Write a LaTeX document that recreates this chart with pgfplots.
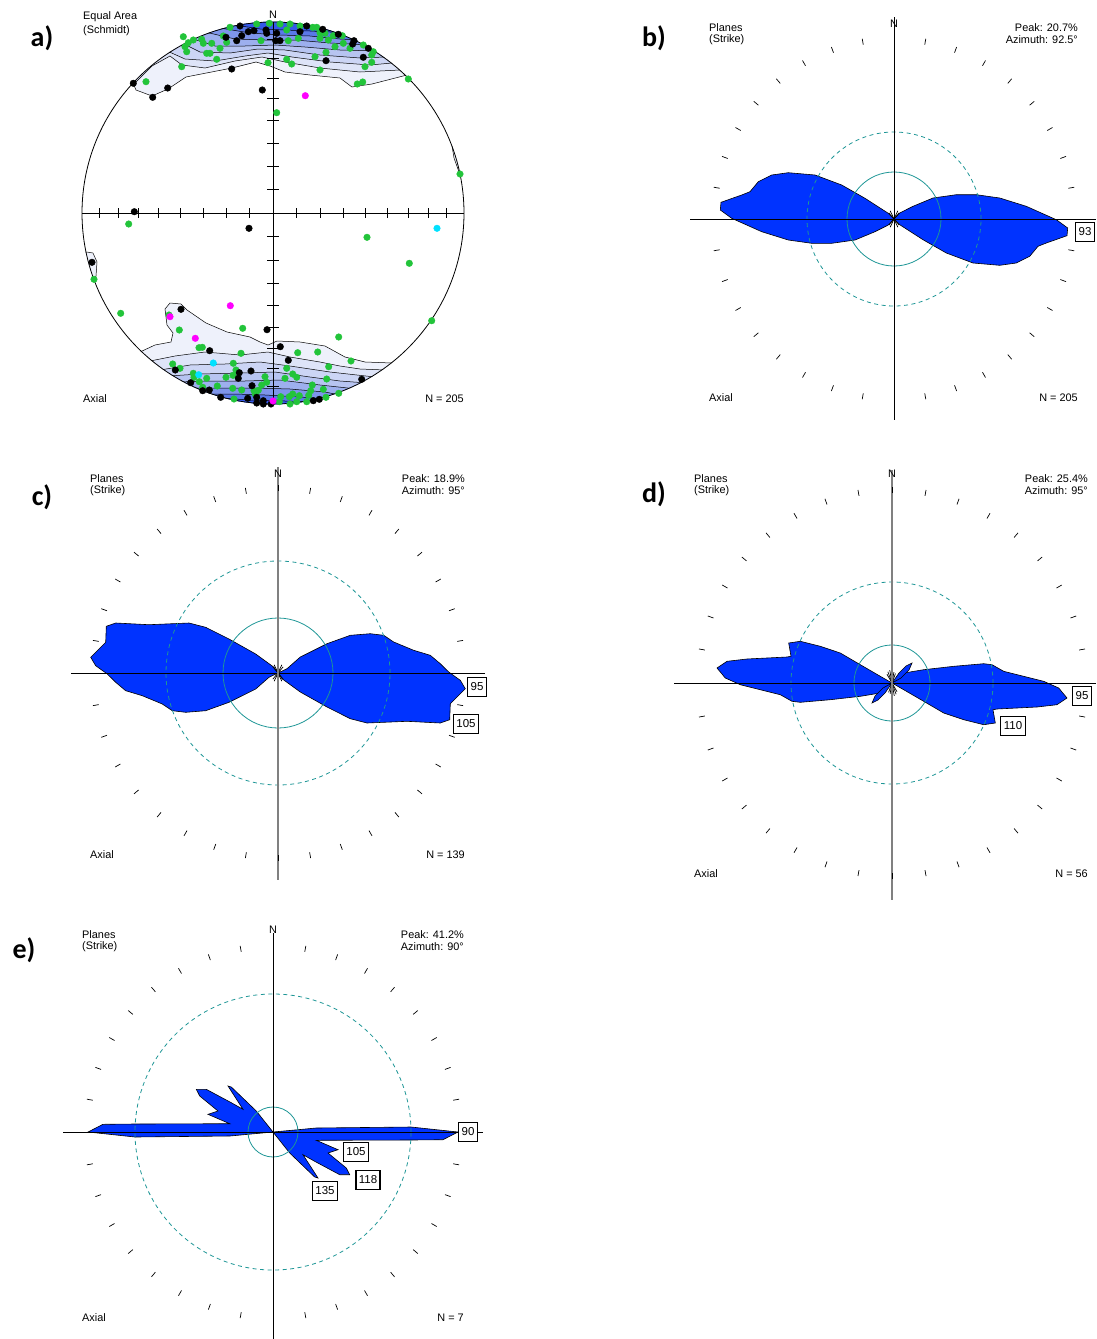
\documentclass[border=0pt]{standalone}
\usepackage{pgfplots}
\pgfplotsset{compat=1.18}
\usepackage{pgfplotstable}
\usepackage{fontspec}
\setmainfont{Liberation Sans}
\newfontfamily\carlito{Carlito}
\definecolor{roseblue}{RGB}{0,51,255}
\definecolor{rteal}{RGB}{30,150,150}
\definecolor{dgreen}{RGB}{34,196,58}
\definecolor{dcyan}{RGB}{0,225,255}
\definecolor{dmag}{RGB}{255,0,255}
\definecolor{cA}{RGB}{238,241,251}
\definecolor{cB}{RGB}{222,228,248}
\definecolor{cC}{RGB}{204,213,245}
\definecolor{cD}{RGB}{183,196,241}
\definecolor{cE}{RGB}{157,175,238}
\definecolor{cF}{RGB}{126,149,234}
\definecolor{cG}{RGB}{90,120,232}
\definecolor{cH}{RGB}{53,89,234}
\definecolor{axgray}{RGB}{128,128,128}
\newcommand{\sm}{\fontsize{10.9}{12}\selectfont}
\newcommand{\pl}{\carlito\bfseries\fontsize{28}{30}\selectfont}
\tikzset{lbl/.style={draw=black, line width=1.2pt, fill=white, font=\fontsize{11.5}{12}\selectfont, inner xsep=3pt, inner ysep=0pt, minimum height=19pt},
 tl/.style={anchor=west, font=\sm, inner sep=0pt},
 tr/.style={anchor=east, font=\sm, inner sep=0pt}}
\pgfplotstableread{
a s
0 1
10 1
20 1
30 1
40 1
50 1
60 1
70 1
80 1
90 1
100 1
110 1
120 1
130 1
140 1
150 1
160 1
170 1
180 1
190 1
200 1
210 1
220 1
230 1
240 1
250 1
260 1
270 1
280 1
290 1
300 1
310 1
320 1
330 1
340 1
350 1
}\angtab
\pgfplotstableread{
x y u v
99.4 208 0 10
118 208 0 10
138 208 0 10
158.8 208 0 10
180.6 208 0 10
203.1 208 0 10
226.1 208 0 10
249.5 208 0 10
296.5 208 0 10
319.9 208 0 10
342.9 208 0 10
365.4 208 0 10
387.2 208 0 10
408 208 0 10
428 208 0 10
446.6 208 0 10
267 39.4 12 0
267 58 12 0
267 78 12 0
267 98.8 12 0
267 120.6 12 0
267 143.1 12 0
267 166.1 12 0
267 189.5 12 0
267 236.5 12 0
267 259.9 12 0
267 282.9 12 0
267 305.4 12 0
267 327.2 12 0
267 348 12 0
267 368 12 0
267 386.6 12 0
}\stticks
\pgfplotstableread{
dx dy
0 0
5.7 -6
19 -12.7
39 -21
62.3 -24.3
82.3 -24.3
105.7 -21
132.3 -12.7
162.3 0.7
173.7 9
173 16.7
152.3 24
144 27.3
135.7 37.3
122.3 44
105.7 46.3
79 44
52.3 34
29 20.7
5.7 5.7
0 0
}\petalb
\pgfplotstableread{
dx dy
0 0
9 -4.3
22.3 -16
49 -29.3
72.3 -37.7
92.3 -39.3
105.7 -37.7
115.7 -31
135.7 -22.7
152.3 -17.7
162.3 -9.3
170.7 -1
182.3 7.3
187.3 15.7
172.3 30.7
171.7 46.7
162.3 50
129 48.3
89 50
72.3 45.7
49 34
22.3 19
4 5.7
0 0
}\petalc
\pgfplotstableread{
dx dy
0 0
5 -5
11.7 -10
31.7 -13.3
61.7 -16.7
91.7 -19.3
100 -18.3
111.7 -11.7
131.7 -6.7
151.7 -1.7
166.7 5
175 15
165 21.7
145 24
105 26
101 26.7
103.3 40
91.7 41.7
71.7 36.7
51.7 30
31.7 18.3
11.7 6.7
0 0
}\petald
\pgfplotstableread{
dx dy
0 0
7 -10
14 -17
20 -20
17 -13
9 -5
0 0
}\petaldthin
\pgfplotstableread{
dx dy
0 0
25 -2.3
43 -4
138 -5
185 0
170 7.7
138 8
43.3 8.3
65 17.7
55 21
73.3 36
76.7 42.7
66.7 42.7
41.7 29.3
30 22.7
45 46
41.7 45
16.7 21
0 0
}\petale
\pgfplotstableread{
a l
25 9
40 8
140 8
155 9
205 9
220 8
320 8
335 9
}\flecks
\pgfplotstableread{
a l
-30 10
-20 12
-10 13
0 12
10 11
20 10
150 10
160 12
170 13
180 12
190 11
200 10
}\flecksd
\begin{document}%
\begin{tikzpicture}
\begin{axis}[x=1pt,y=1pt,xmin=0,xmax=1096,ymin=0,ymax=1339,y dir=reverse,hide axis]
% ===== panel a: contours (top)
\addplot[fill=cA,draw=black,line width=0.5pt] coordinates {(133,83) (136,90) (152,96) (168,89) (186,77) (232,68) (256,62) (270,66) (285,72) (310,75) (340,78) (352,87) (372,84) (407,75) (425,61) (346.5,11) (273,-2) (199.5,11) (121,61) (133,83)};
\addplot[fill=cB,draw=black,line width=0.5pt] coordinates {(136,82) (152,66) (170,56) (182,65) (205,68) (235,61) (262,57) (285,62) (320,68) (360,72) (400,70) (413.5,57) (346.5,11) (273,-2) (199.5,11) (121,61) (136,82)};
\addplot[fill=cC,draw=black,line width=0.5pt] coordinates {(165,50) (185,59) (215,61) (245,56) (268,53) (292,57) (330,62) (370,65) (392,63) (406.4,48.2) (346.5,11) (273,-2) (199.5,11) (154.5,37.2) (165,50)};
\addplot[fill=cD,draw=black,line width=0.5pt] coordinates {(180,42) (200,52) (230,53) (258,49) (285,50) (320,55) (360,58) (385,57) (397.6,41.5) (346.5,11) (273,-2) (199.5,11) (170.2,27.6) (180,42)};
\addplot[fill=cE,draw=black,line width=0.5pt] coordinates {(190,38) (215,46) (245,46) (275,45) (305,47) (340,50) (378,51) (390,36.2) (346.5,11) (273,-2) (199.5,11) (180,22.5) (190,38)};
\addplot[fill=cF,draw=black,line width=0.5pt] coordinates {(205,32) (235,39) (265,40) (295,40) (330,43) (368,45) (379,29.4) (346.5,11) (273,-2) (197,15) (205,32)};
\addplot[fill=cG,draw=black,line width=0.5pt] coordinates {(220,28) (250,33) (280,35) (310,36) (340,39) (360,40) (369.2,24.1) (346.5,11) (273,-2) (214.6,9.2) (220,28)};
\addplot[fill=cH,draw=black,line width=0.5pt] coordinates {(235,25) (260,29) (285,30) (310,31) (330,32) (345,33) (352.4,16.4) (273,-2) (228.9,5.6) (235,25)};
% bottom contours
\addplot[fill=cA,draw=black,line width=0.5pt] coordinates {(140,352) (155,345) (171,342) (173,333) (167,325) (165,309) (170,303) (181,304) (187,310) (206,323) (227,332) (250,337) (260,342) (268,345) (277,341) (300,342) (325,346) (345,357) (365,362) (392,363) (407.8,376.6) (345.5,412.2) (273,425) (200.5,412.2) (124.4,364.2) (140,352)};
\addplot[fill=cB,draw=black,line width=0.5pt] coordinates {(150,361) (175,356) (205,352) (240,355) (268,352) (290,357) (320,362) (340,366) (360,369) (385,370) (397.6,384.5) (345.5,412.2) (273,425) (200.5,412.2) (136.7,375.4) (150,361)};
\addplot[fill=cC,draw=black,line width=0.5pt] coordinates {(160,370) (190,365) (225,364) (260,362) (290,366) (330,372) (375,377) (385.3,392.8) (345.5,412.2) (273,425) (200.5,412.2) (148.4,384.5) (160,370)};
\addplot[fill=cD,draw=black,line width=0.5pt] coordinates {(168,376) (200,374) (240,373) (275,372) (310,377) (340,381) (367,383) (375.8,398.5) (345.5,412.2) (273,425) (200.5,412.2) (157.5,390.9) (168,376)};
\addplot[fill=cE,draw=black,line width=0.5pt] coordinates {(178,382) (210,381) (245,381) (280,380) (320,385) (357,389) (365.9,403.6) (345.5,412.2) (273,425) (200.5,412.2) (167,396.6) (178,382)};
\addplot[fill=cF,draw=black,line width=0.5pt] coordinates {(190,388) (220,388) (255,388) (290,389) (325,392) (345,396) (352.4,409.5) (273,425) (180.1,403.6) (190,388)};
\addplot[fill=cG,draw=black,line width=0.5pt] coordinates {(205,394) (235,394) (265,395) (300,397) (330,399) (338.5,414.6) (273,425) (197.1,411) (205,394)};
\addplot[fill=cH,draw=black,line width=0.5pt] coordinates {(220,398) (250,400) (285,401) (315,402) (320.7,419.5) (273,425) (211,415.7) (220,398)};
% slivers
\addplot[fill=cA,draw=black,line width=0.5pt] coordinates {(452,146) (454,158) (459,172) (470,172) (465,146) (452,146)};
\addplot[fill=cA,draw=black,line width=0.5pt] coordinates {(87,252) (93,253) (97,262) (96,276) (94,280) (80,280) (78,252) (87,252)};
% mask outside the net
\fill[white, even odd rule] (axis cs:273,213) circle[radius=191.5pt] circle[radius=235pt];
\draw[black, line width=0.8pt] (axis cs:273,213) circle[radius=191pt];
\addplot[black, line width=0.7pt] coordinates {(82,213) (464,213)};
\addplot[black, line width=0.7pt] coordinates {(273,22) (273,404)};
\addplot[black, line width=0.7pt, quiver={u=\thisrow{u}, v=\thisrow{v}}] table[x=x,y=y] {\stticks};
% dots
\addplot[only marks, mark=*, mark size=3.3pt, color=dgreen] coordinates {(230,27.3) (256.7,24) (269.3,23.3) (280,24) (290,24) (300,26) (312.7,27.3) (316.7,27.3) (320,32.7) (325,33.3) (333.3,35.7) (342.3,35.7) (223.3,36) (201.7,39.3) (193.3,40) (188.3,42.7) (185,46.7) (186.7,51.7) (203.3,43.3) (211.7,43.3) (206.7,53.3) (210,53.3) (220,48.3) (226.7,42.3) (216.7,59.3) (181.7,66.7) (146,81.7) (261,40.7) (286.7,30) (288.3,40.7) (298.3,38.3) (320,38.3) (328.3,40) (335,46.7) (343.3,43.3) (350,48.3) (363.3,45) (373.3,51.7) (371.7,55) (326,52.3) (315,56.7) (371.7,62.3) (365,66.7) (286.7,59.3) (291.7,64) (268,62.7) (320,70) (357.3,84) (362.7,82) (408.3,79) (276.7,112.7) (460,174) (183.3,36.7)
(128.7,224) (94,279.3) (120.7,313.3) (169,315) (179.3,330) (242.7,328.3) (199,347.7) (202.3,347.3) (241,353.3) (297.7,352.7) (317.7,352) (338.7,337) (351,361) (328.7,366.7) (431.7,320.7) (409.3,263.3) (367,237.3) (172.7,364) (180,368.3) (233.3,363.3) (236,370) (233,375.3) (226,377.3) (206.7,378.3) (193.3,373.3) (199.3,381.7) (217.3,386) (232.7,388.3) (241.7,390) (254,390.7) (258.3,390.3) (265,376.7) (266.7,382.3) (261.7,385) (286.7,368.3) (292.7,374) (296.7,377.3) (285,378.3) (326.7,379) (312.3,385) (310.7,390.7) (323.3,389.3) (338.7,393.3) (326,397.3) (308.7,395.3) (299.3,395.7) (292.7,394) (289.3,396.7) (280.7,396.7) (279.3,401.7) (296.7,401.7) (306.7,401.7) (290,404) (234,399) (255.3,394.3) (202.7,387.3) (194,377.3)};
\addplot[only marks, mark=*, mark size=3.3pt, color=black] coordinates {(240,26) (248.3,31.7) (254,30.7) (266,30) (266.7,33.3) (276.7,33.3) (275.7,40.7) (280,40.7) (241.7,35.7) (236.7,40.7) (226,37.3) (300,31.7) (306.7,26) (322.7,29.3) (338.3,34.3) (354,40.7) (352.7,44) (368.3,48.3) (363.3,57.3) (326,60.7) (231.7,69) (133.3,83.3) (152.7,97.3) (167.7,88) (262.3,90) (134.3,211.7)
(249,228.3) (92,262.3) (181,309.3) (267,329.7) (280.3,346.7) (209.7,350.7) (288.3,360.3) (251,371) (239.3,372.7) (238.3,378.3) (175.3,370) (190.7,382.7) (252,385.7) (256.7,397.3) (247.7,398.3) (263.3,400.7) (271,404) (263.3,404) (256.7,403) (220.7,397.3) (209.3,390) (202.7,390.7) (319.3,399.3) (361.7,379.3) (313.3,400.7)};
\addplot[only marks, mark=*, mark size=3.3pt, color=dmag] coordinates {(305.3,95.7) (170,316.7) (230.3,305.7) (195.3,338.3) (273,401)};
\addplot[only marks, mark=*, mark size=3.3pt, color=dcyan] coordinates {(437,228.3) (213.3,363) (198.7,374.7)};
\node[tl] at (axis cs:83,17) {Equal Area};
\node[tl] at (axis cs:83,31) {(Schmidt)};
\node[font=\sm] at (axis cs:273,15) {N};
\node[tl] at (axis cs:83,399) {Axial};
\node[tr] at (axis cs:464,399) {N = 205};
\node[font=\pl] at (axis cs:42,38) {a)};
% ===== panel b
\addplot[fill=roseblue,draw=black,line width=0.6pt] table[x expr={894+\thisrow{dx}}, y expr={219+\thisrow{dy}}] {\petalb};
\addplot[fill=roseblue,draw=black,line width=0.6pt] table[x expr={894-\thisrow{dx}}, y expr={219-\thisrow{dy}}] {\petalb};
\addplot[black, line width=0.7pt, quiver={u={\thisrow{l}*sin(\thisrow{a})}, v={-\thisrow{l}*cos(\thisrow{a})}}] table[x expr=894, y expr=219] {\flecks};
\draw[rteal, line width=0.8pt] (axis cs:894,219) circle[radius=47pt];
\draw[rteal, line width=0.8pt, dash pattern=on 4pt off 3.5pt] (axis cs:894,219) circle[radius=87pt];
\addplot[black, line width=0.7pt] coordinates {(690,219) (1096,219)};
\addplot[black, line width=0.7pt] coordinates {(894,17) (894,420)};
\addplot[black, line width=0.7pt, quiver={u={6*sin(\thisrow{a})}, v={-6*cos(\thisrow{a})}}] table[x expr={894+177*sin(\thisrow{a})}, y expr={219-177*cos(\thisrow{a})}] {\angtab};
\node[tl] at (axis cs:709,28) {Planes};
\node[tl] at (axis cs:709,39.5) {(Strike)};
\node[tr] at (axis cs:1078,28) {Peak: 20.7\%};
\node[tr] at (axis cs:1078,39.5) {Azimuth: 92.5°};
\node[font=\sm] at (axis cs:894,24) {N};
\node[tl] at (axis cs:709,398) {Axial};
\node[tr] at (axis cs:1078,398) {N = 205};
\node[lbl] at (axis cs:1085,232) {93};
\node[font=\pl] at (axis cs:654,38) {b)};
% ===== panel c
\addplot[fill=roseblue,draw=black,line width=0.6pt] table[x expr={278+\thisrow{dx}}, y expr={673+\thisrow{dy}}] {\petalc};
\addplot[fill=roseblue,draw=black,line width=0.6pt] table[x expr={278-\thisrow{dx}}, y expr={673-\thisrow{dy}}] {\petalc};
\addplot[black, line width=0.7pt, quiver={u={\thisrow{l}*sin(\thisrow{a})}, v={-\thisrow{l}*cos(\thisrow{a})}}] table[x expr=278, y expr=673] {\flecks};
\draw[rteal, line width=0.8pt] (axis cs:278,673) circle[radius=55pt];
\draw[rteal, line width=0.8pt, dash pattern=on 4pt off 3.5pt] (axis cs:278,673) circle[radius=112pt];
\addplot[black, line width=0.7pt] coordinates {(71,673) (485,673)};
\addplot[axgray, line width=1.3pt] coordinates {(278,467) (278,880)};
\addplot[black, line width=0.7pt, quiver={u={6*sin(\thisrow{a})}, v={-6*cos(\thisrow{a})}}] table[x expr={278+182*sin(\thisrow{a})}, y expr={673-182*cos(\thisrow{a})}] {\angtab};
\node[tl] at (axis cs:90,479) {Planes};
\node[tl] at (axis cs:90,490.5) {(Strike)};
\node[tr] at (axis cs:465,479) {Peak: 18.9\%};
\node[tr] at (axis cs:465,490.5) {Azimuth: 95°};
\node[font=\sm] at (axis cs:278,474) {N};
\node[tl] at (axis cs:90,855) {Axial};
\node[tr] at (axis cs:465,855) {N = 139};
\node[lbl] at (axis cs:477,687) {95};
\node[lbl] at (axis cs:466,724) {105};
\node[font=\pl] at (axis cs:42,497) {c)};
% ===== panel d
\addplot[fill=roseblue,draw=black,line width=0.6pt] table[x expr={892+\thisrow{dx}}, y expr={683+\thisrow{dy}}] {\petald};
\addplot[fill=roseblue,draw=black,line width=0.6pt] table[x expr={892-\thisrow{dx}}, y expr={683-\thisrow{dy}}] {\petald};
\addplot[fill=roseblue,draw=black,line width=0.6pt] table[x expr={892+\thisrow{dx}}, y expr={683+\thisrow{dy}}] {\petaldthin};
\addplot[fill=roseblue,draw=black,line width=0.6pt] table[x expr={892-\thisrow{dx}}, y expr={683-\thisrow{dy}}] {\petaldthin};
\addplot[black, line width=0.7pt, quiver={u={\thisrow{l}*sin(\thisrow{a})}, v={-\thisrow{l}*cos(\thisrow{a})}}] table[x expr=892, y expr=683] {\flecksd};
\draw[rteal, line width=0.8pt] (axis cs:892,683) circle[radius=38pt];
\draw[rteal, line width=0.8pt, dash pattern=on 4pt off 3.5pt] (axis cs:892,683) circle[radius=101pt];
\addplot[black, line width=0.7pt] coordinates {(674,683) (1096,683)};
\addplot[axgray, line width=1.3pt] coordinates {(892,470) (892,900)};
\addplot[black, line width=0.7pt, quiver={u={6*sin(\thisrow{a})}, v={-6*cos(\thisrow{a})}}] table[x expr={892+190*sin(\thisrow{a})}, y expr={683-190*cos(\thisrow{a})}] {\angtab};
\node[tl] at (axis cs:694,479) {Planes};
\node[tl] at (axis cs:694,491) {(Strike)};
\node[tr] at (axis cs:1088,479) {Peak: 25.4\%};
\node[tr] at (axis cs:1088,491) {Azimuth: 95°};
\node[font=\sm] at (axis cs:892,474) {N};
\node[tl] at (axis cs:694,874) {Axial};
\node[tr] at (axis cs:1088,874) {N = 56};
\node[lbl] at (axis cs:1082,696) {95};
\node[lbl] at (axis cs:1013,726) {110};
\node[font=\pl] at (axis cs:654,494) {d)};
% ===== panel e
\addplot[fill=roseblue,draw=black,line width=0.6pt] table[x expr={273+\thisrow{dx}}, y expr={1132+\thisrow{dy}}] {\petale};
\addplot[fill=roseblue,draw=black,line width=0.6pt] table[x expr={273-\thisrow{dx}}, y expr={1132-\thisrow{dy}}] {\petale};
\draw[rteal, line width=0.8pt] (axis cs:273,1132) circle[radius=25pt];
\draw[rteal, line width=0.8pt, dash pattern=on 4pt off 3.5pt] (axis cs:273,1132) circle[radius=138pt];
\addplot[black, line width=0.7pt] coordinates {(63,1132) (483,1132)};
\addplot[black, line width=0.8pt] coordinates {(273,933) (273,1339)};
\addplot[black, line width=0.7pt, quiver={u={6*sin(\thisrow{a})}, v={-6*cos(\thisrow{a})}}] table[x expr={273+183*sin(\thisrow{a})}, y expr={1132-183*cos(\thisrow{a})}] {\angtab};
\node[tl] at (axis cs:82,935) {Planes};
\node[tl] at (axis cs:82,947) {(Strike)};
\node[tr] at (axis cs:464,935) {Peak: 41.2\%};
\node[tr] at (axis cs:464,947) {Azimuth: 90°};
\node[font=\sm] at (axis cs:273,930) {N};
\node[tl] at (axis cs:82,1318) {Axial};
\node[tr] at (axis cs:464,1318) {N = 7};
\node[lbl, line width=0.8pt] at (axis cs:468,1132) {90};
\node[lbl, line width=0.8pt] at (axis cs:356,1152) {105};
\node[lbl, line width=1.5pt] at (axis cs:368,1180) {118};
\node[lbl, line width=0.8pt] at (axis cs:325,1191) {135};
\node[font=\pl] at (axis cs:24,950) {e)};
\end{axis}
\pgfresetboundingbox
\path[use as bounding box] (current axis.south west) rectangle (current axis.north east);
\end{tikzpicture}%
\end{document}
